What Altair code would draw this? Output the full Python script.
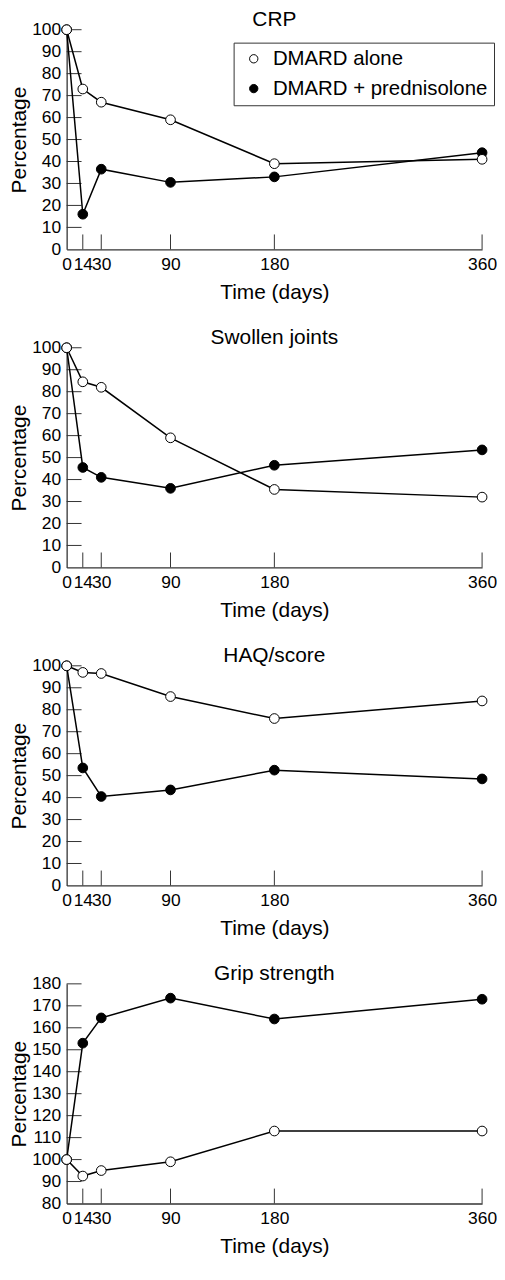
import altair as alt
import pandas as pd

days = [0, 14, 30, 90, 180, 360]
groups = ["DMARD alone", "DMARD + prednisolone"]

crp_alone = [100, 73, 67, 59, 39, 41]
crp_pred = [100, 16, 36.5, 30.5, 33, 44]
swollen_alone = [100, 84.5, 82, 59, 35.5, 32]
swollen_pred = [100, 45.5, 41, 36, 46.5, 53.5]
haq_alone = [100, 97, 96.5, 86, 76, 84]
haq_pred = [100, 53.5, 40.5, 43.5, 52.5, 48.5]
grip_alone = [100, 92.5, 95, 99, 113, 113]
grip_pred = [100, 153, 164.5, 173.5, 164, 173]

x_ticks = [0, 14, 30, 90, 180, 360]
y_ticks_pct = [0, 10, 20, 30, 40, 50, 60, 70, 80, 90, 100]
y_ticks_grip = [80, 90, 100, 110, 120, 130, 140, 150, 160, 170, 180]

FONT = "Liberation Sans"
W, H = 418, 221
TICK_LEN = 15
AXIS_COLOR = "#333333"


def panel(title, alone, pred, ydomain, yticks, show_legend=False):
    df = pd.DataFrame({
        "day": days * 2,
        "pct": list(alone) + list(pred),
        "group": [groups[0]] * len(days) + [groups[1]] * len(days),
    })
    xt = pd.DataFrame({"day": [t for t in x_ticks if t != 0]})
    yt = pd.DataFrame({"pct": [t for t in yticks if t != ydomain[0]]})

    xaxis = alt.Axis(values=x_ticks, labelOverlap=False, labelFlush=False, ticks=False,
                     grid=False, title="Time (days)", labelFontSize=17.5, titleFontSize=21,
                     labelFont=FONT, titleFont=FONT, titleFontWeight="normal",
                     labelColor="black", titleColor="black", domainColor=AXIS_COLOR,
                     domainWidth=1.3, labelPadding=6, titlePadding=9)
    yaxis = alt.Axis(values=yticks, labelOverlap=False, labelFlush=False, ticks=False,
                     grid=False, title="Percentage", labelFontSize=17.5, titleFontSize=21,
                     labelFont=FONT, titleFont=FONT, titleFontWeight="normal",
                     labelColor="black", titleColor="black", domainColor=AXIS_COLOR,
                     domainWidth=1.3, labelPadding=6, titlePadding=2)
    xs = alt.Scale(domain=[0, 360], nice=False, zero=False)
    ys = alt.Scale(domain=ydomain, nice=False, zero=False)

    x_enc = alt.X("day:Q", scale=xs, axis=xaxis)
    y_enc = alt.Y("pct:Q", scale=ys, axis=yaxis)

    fill_legend = None
    if show_legend:
        fill_legend = alt.Legend(
            title=None, orient="none", legendX=168, legendY=13,
            labelFont=FONT, labelFontSize=20.5, labelColor="black", labelLimit=400,
            symbolType="circle", symbolSize=70, symbolStrokeColor="black",
            symbolStrokeWidth=1, symbolOffset=4, labelOffset=9,
            padding=6, rowPadding=9, strokeColor=AXIS_COLOR,
            fillColor="white",
        )

    lines = alt.Chart(df).mark_line(color="black", strokeWidth=1.5).encode(
        x=x_enc, y=y_enc, detail="group:N"
    )
    points = alt.Chart(df).mark_point(
        filled=True, size=95, stroke="black", strokeWidth=1, opacity=1
    ).encode(
        x=x_enc, y=y_enc,
        fill=alt.Fill("group:N", scale=alt.Scale(domain=groups, range=["white", "black"]),
                      legend=fill_legend),
        order=alt.Order("group:N"),
    )
    xtick_rules = alt.Chart(xt).mark_rule(color=AXIS_COLOR, strokeWidth=1).encode(
        x=x_enc, y=alt.value(H - TICK_LEN), y2=alt.value(H)
    )
    ytick_rules = alt.Chart(yt).mark_rule(color=AXIS_COLOR, strokeWidth=1).encode(
        y=y_enc, x=alt.value(0), x2=alt.value(TICK_LEN)
    )
    return alt.layer(xtick_rules, ytick_rules, lines, points).properties(
        width=W, height=H,
        title=alt.TitleParams(title, font=FONT, fontSize=21, fontWeight="normal",
                              color="black", anchor="middle", frame="group", offset=-9),
    )


chart = alt.vconcat(
    panel("CRP", crp_alone, crp_pred, [0, 100], y_ticks_pct, show_legend=True),
    panel("Swollen joints", swollen_alone, swollen_pred, [0, 100], y_ticks_pct),
    panel("HAQ/score", haq_alone, haq_pred, [0, 100], y_ticks_pct),
    panel("Grip strength", grip_alone, grip_pred, [80, 180], y_ticks_grip),
    spacing=24,
).resolve_scale(fill="independent").resolve_legend(fill="independent").properties(
    padding={"left": 0, "top": -3, "right": 0, "bottom": 0}
).configure_view(stroke=None)

chart.save("out.html", embed_options={"renderer": "svg", "actions": False})
